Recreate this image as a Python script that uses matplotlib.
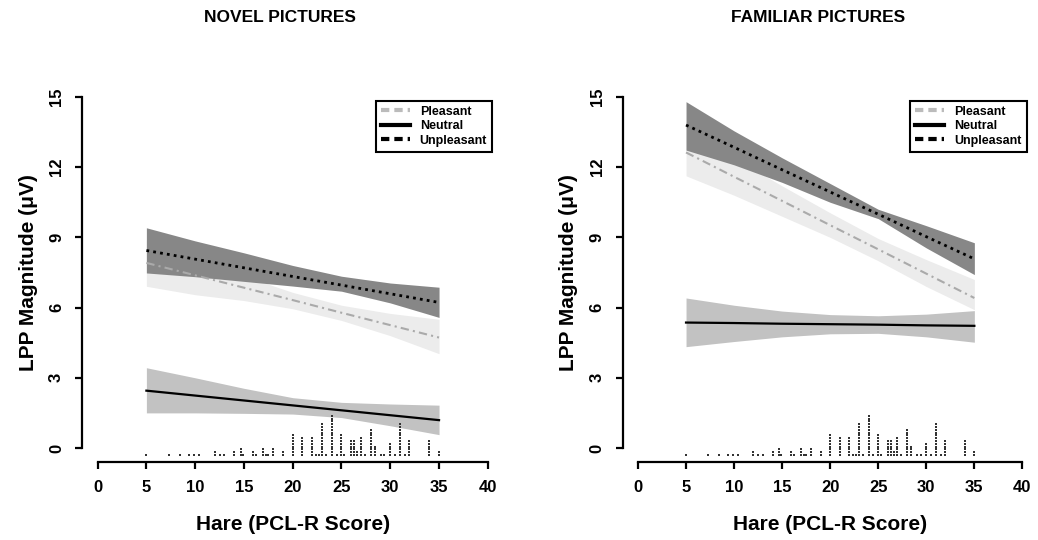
import matplotlib
matplotlib.use("Agg")
import matplotlib.pyplot as plt
from matplotlib.lines import Line2D
import numpy as np

plt.rcParams['font.family'] = ['Liberation Sans', 'DejaVu Sans']

hare = [5, 10, 15, 20, 25, 30, 35]

# NOVEL pictures
nov_unpl = [8.44, 8.07, 7.70, 7.33, 6.96, 6.59, 6.22]
nov_unpl_hi = [9.41, 8.85, 8.34, 7.80, 7.34, 7.05, 6.87]
nov_unpl_lo = [7.48, 7.32, 7.12, 6.92, 6.70, 6.20, 5.58]
nov_pleas = [7.91, 7.38, 6.85, 6.32, 5.78, 5.25, 4.72]
nov_pleas_hi = [8.90, 8.15, 7.35, 6.65, 6.10, 5.75, 5.50]
nov_pleas_lo = [6.91, 6.55, 6.30, 5.95, 5.45, 4.80, 4.03]
nov_neut = [2.45, 2.24, 2.03, 1.82, 1.61, 1.40, 1.19]
nov_neut_hi = [3.43, 3.00, 2.55, 2.15, 1.95, 1.88, 1.83]
nov_neut_lo = [1.50, 1.50, 1.48, 1.45, 1.30, 0.95, 0.57]

# FAMILIAR pictures
fam_unpl = [13.80, 12.85, 11.89, 10.94, 9.99, 9.03, 8.08]
fam_unpl_hi = [14.80, 13.55, 12.40, 11.30, 10.20, 9.50, 8.77]
fam_unpl_lo = [12.73, 12.10, 11.35, 10.50, 9.80, 8.55, 7.41]
fam_pleas = [12.63, 11.59, 10.56, 9.52, 8.49, 7.45, 6.41]
fam_pleas_hi = [13.63, 12.40, 11.20, 10.05, 8.95, 8.05, 7.20]
fam_pleas_lo = [11.63, 10.80, 9.90, 9.00, 8.00, 6.90, 5.91]
fam_neut = [5.36, 5.34, 5.31, 5.29, 5.27, 5.24, 5.22]
fam_neut_hi = [6.41, 6.10, 5.85, 5.70, 5.65, 5.72, 5.87]
fam_neut_lo = [4.33, 4.55, 4.75, 4.88, 4.90, 4.75, 4.52]

# distribution of PCL-R scores (stacked dots along the bottom)
scores = [5, 7.3, 8.4, 9.4, 9.9, 10.4, 12, 12.5, 13, 14, 14.7, 14.9, 15.9, 16.2,
          17, 17.3, 17.5, 18, 19, 20, 21, 22, 22.4, 22.7, 23, 23.4, 24, 24.5,
          25, 25.3, 26, 26.3, 26.6, 27, 27.4, 28, 28.4, 29, 29.4, 30, 30.5,
          31, 31.5, 31.9, 34, 35]
counts = [1, 1, 1, 1, 1, 1, 2, 1, 1, 2, 3, 1, 2, 1,
          3, 1, 1, 3, 2, 8, 7, 7, 1, 1, 12, 1, 15, 1,
          8, 1, 6, 6, 2, 7, 1, 10, 4, 1, 1, 5, 1,
          12, 1, 6, 6, 2]

xticks = [0, 5, 10, 15, 20, 25, 30, 35, 40]
yticks = [0, 3, 6, 9, 12, 15]

dark = '#878787'
light = '#ececec'
mid = '#c2c2c2'

fig = plt.figure(figsize=(10.38, 5.4), dpi=100)
ax1 = fig.add_axes([0.079, 0.1444, 0.406, 0.702])
ax2 = fig.add_axes([0.5998, 0.1444, 0.400, 0.702])


def panel(ax, pl, pl_hi, pl_lo, ne, ne_hi, ne_lo, un, un_hi, un_lo):
    ax.fill_between(hare, ne_lo, ne_hi, color=mid, lw=0)
    ax.fill_between(hare, pl_lo, pl_hi, color=light, lw=0)
    ax.fill_between(hare, un_lo, un_hi, color=dark, lw=0)
    ax.plot(hare, ne, color='black', lw=1.6)
    ax.plot(hare, pl, color='#aaaaaa', lw=1.5, linestyle=(0, (4, 2, 1, 2)))
    ax.plot(hare, un, color='black', lw=2, linestyle=(0, (1, 1.5)))

    # stacked dot plot of scores
    for s, c in zip(scores, counts):
        ys = -0.3 + 0.12 * np.arange(c)
        ax.scatter([s] * c, ys, marker='s', s=1.3, color='#333333', lw=0)

    ax.set_xlim(-1.6, 41.6)
    ax.set_ylim(-0.6, 15.6)
    ax.spines['top'].set_visible(False)
    ax.spines['right'].set_visible(False)
    ax.spines['left'].set_bounds(0, 15)
    ax.spines['bottom'].set_bounds(0, 40)
    ax.spines['left'].set_linewidth(1.6)
    ax.spines['bottom'].set_linewidth(1.6)
    ax.set_xticks(xticks)
    ax.set_yticks(yticks)
    ax.tick_params(width=1.6, length=5, labelsize=12)
    ax.tick_params(axis='x', pad=8)
    ax.tick_params(axis='y', pad=8, labelrotation=90)
    for lab in ax.get_yticklabels():
        lab.set_va('center')
    for lab in ax.get_xticklabels() + ax.get_yticklabels():
        lab.set_fontweight('bold')
    ax.set_xlabel('Hare (PCL-R Score)', fontsize=15, fontweight='bold', labelpad=14)
    ax.set_ylabel('LPP Magnitude (\u03bcV)', fontsize=15, fontweight='bold', labelpad=8)

    handles = [Line2D([], [], color='#bbbbbb', lw=3, linestyle=(0, (2, 1.2))),
               Line2D([], [], color='black', lw=3),
               Line2D([], [], color='black', lw=3, linestyle=(0, (2, 1.2)))]
    leg = ax.legend(handles, ['Pleasant', 'Neutral', 'Unpleasant'],
                    loc='upper right', bbox_to_anchor=(0.988, 0.97),
                    frameon=True, fancybox=False, framealpha=1,
                    edgecolor='black', handlelength=2.3, labelspacing=0.2,
                    borderpad=0.4, handletextpad=0.8,
                    prop={'weight': 'bold', 'size': 9})
    leg.get_frame().set_linewidth(1.5)


panel(ax1, nov_pleas, nov_pleas_hi, nov_pleas_lo, nov_neut, nov_neut_hi, nov_neut_lo,
      nov_unpl, nov_unpl_hi, nov_unpl_lo)
panel(ax2, fam_pleas, fam_pleas_hi, fam_pleas_lo, fam_neut, fam_neut_hi, fam_neut_lo,
      fam_unpl, fam_unpl_hi, fam_unpl_lo)

fig.text(280 / 1038, 1 - 18 / 540, 'NOVEL PICTURES', ha='center', va='center',
         fontsize=12.5, fontweight='bold')
fig.text(818 / 1038, 1 - 18 / 540, 'FAMILIAR PICTURES', ha='center', va='center',
         fontsize=12.5, fontweight='bold')

fig.savefig('out.png', dpi=100)
